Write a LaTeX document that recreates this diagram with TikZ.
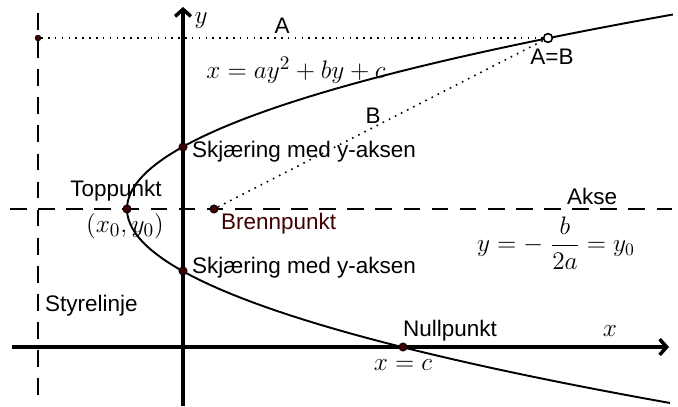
\documentclass[tikz,border=0pt]{standalone}
\usepackage{amsmath}
\usepackage{fontspec}
\usetikzlibrary{arrows.meta, positioning}
\newfontfamily\arialfont{Liberation Sans}
\definecolor{PointRed}{HTML}{400000}

\tikzset{
  pt/.style={circle, fill=PointRed, draw=black, line width=0.5pt, inner sep=0pt, minimum size=4.6pt},
  smallpt/.style={circle, fill=PointRed, draw=black, line width=0.4pt, inner sep=0pt, minimum size=3.2pt},
  openpt/.style={circle, fill=white, draw=black, line width=0.9pt, inner sep=0pt, minimum size=5pt},
  lbl/.style={font=\arialfont\fontsize{12.8}{15}\selectfont, inner sep=1pt},
  mlbl/.style={font=\fontsize{15}{18}\selectfont, inner sep=1pt},
  axisline/.style={line width=2pt, -{Straight Barb[length=4pt, width=9pt]}},
  guide/.style={line width=1.1pt, dash pattern=on 9.5pt off 6.5pt},
  dotline/.style={line width=0.9pt, dash pattern=on 0.9pt off 3pt},
}

\begin{document}
\begin{tikzpicture}[x=0.02cm, y=-0.02cm]
  \useasboundingbox (0,0) rectangle (678,406);

  % directrix and axis of symmetry
  \coordinate (dirtop) at (38,13);
  \coordinate (dirbot) at (38,406);
  \coordinate (akseL) at (10,209);
  \coordinate (akseR) at (672,209);
  \draw[guide] (dirtop) -- (dirbot);
  \draw[guide] (akseL) -- (akseR);

  % coordinate axes
  \coordinate (xstart) at (12,347);
  \coordinate (xend) at (669,347);
  \coordinate (ystart) at (183,406);
  \coordinate (yend) at (183,7);
  \draw[axisline] (xstart) -- (xend);
  \draw[axisline] (ystart) -- (yend);

  % the parabola
  \draw[line width=1.1pt, domain=-19.45:19.4, samples=90, variable=\t]
    plot ({127+1.443*\t*\t}, {209+10*\t});

  % points
  \node[pt] (top) at (127,209) {};
  \node[pt] (brenn) at (214,209) {};
  \node[pt] (skj1) at (183,147) {};
  \node[pt] (skj2) at (183,271) {};
  \node[pt] (null) at (403,347) {};
  \node[smallpt] (dirpt) at (38,38) {};
  \node[openpt] (AB) at (548,38) {};

  % equal distances
  \draw[dotline] (dirpt) -- (AB);
  \draw[dotline] (brenn) -- (AB);

  % labels
  \node[lbl] (lblA) at (282,26) {A};
  \node[lbl] (lblB) at (373,116) {B};
  \node[lbl] (lblAB) at (552,57) {A=B};
  \node[mlbl] (lbly) at (201,21) {$y$};
  \node[mlbl] (lblx) at (610,331) {$x$};
  \node[mlbl] (ligning) at (296,70) {$x = ay^2 + by + c$};
  \node[lbl, anchor=west] (lblskj1) at (190,152) {Skjæring med y-aksen};
  \node[lbl, anchor=west] (lblskj2) at (190,268) {Skjæring med y-aksen};
  \node[lbl] (lbltop) at (116,191) {Toppunkt};
  \node[mlbl] (lblx0y0) at (125,226) {$(x_0,y_0)$};
  \node[lbl, anchor=west, text=PointRed] (lblbrenn) at (219,224) {Brennpunkt};
  \node[lbl] (lblakse) at (592,196) {Akse};
  \node[mlbl, font=\fontsize{14}{17}\selectfont] (lblaksefx) at (556,243) {$y = -\;\dfrac{b}{2a} = y_0$};
  \node[lbl, anchor=west] (lblstyre) at (43,306) {Styrelinje};
  \node[lbl, anchor=west] (lblnull) at (401,331) {Nullpunkt};
  \node[mlbl] (lblxc) at (403,365) {$x = c$};
\end{tikzpicture}
\end{document}
